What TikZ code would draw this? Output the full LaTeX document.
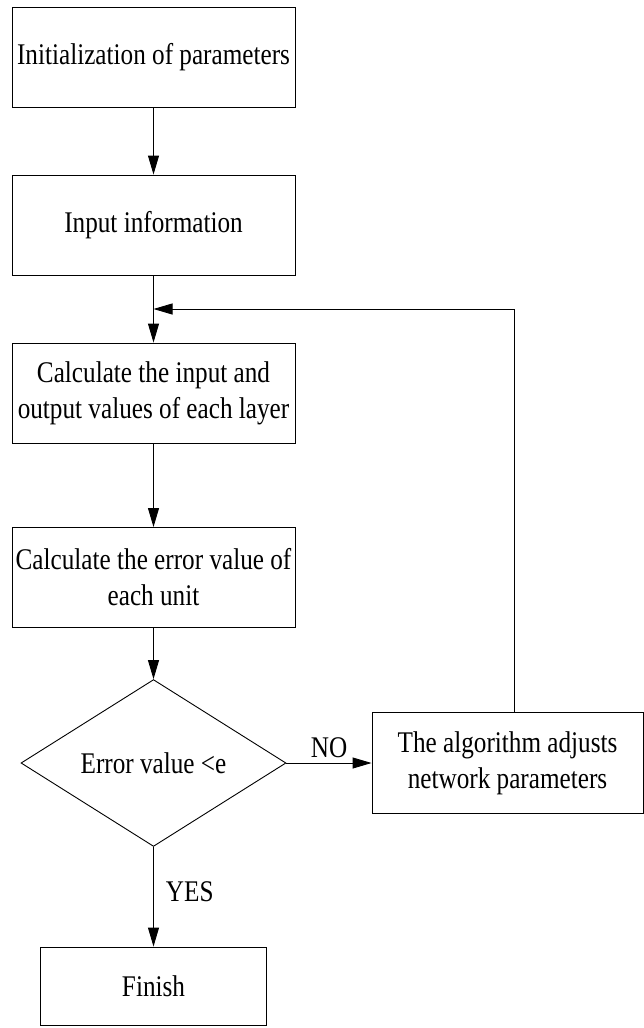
\documentclass[tikz,border=0pt]{standalone}
\usepackage{fontspec}
\setmainfont[FakeStretch=0.84]{Liberation Serif}
\usetikzlibrary{
  arrows.meta,
  calc,
  shapes.geometric
}

\begin{document}
\begin{tikzpicture}[
  x=1pt, y=-1pt,
  font=\fontsize{30}{36}\selectfont,
  >={Triangle[width=11pt,length=19pt]},
  stepbox/.style={draw, line width=0.9pt, minimum width=#1,
                  minimum height=100pt, inner sep=1pt, align=center},
  stepbox/.default=283pt,
  test/.style={diamond, draw, line width=0.9pt, minimum width=265pt,
               minimum height=148pt, inner sep=0pt, align=center},
  arr/.style={->, line width=0.9pt},
]
  \useasboundingbox (0,0) rectangle (644,1028);

  % main column
  \node[stepbox] (init)  at (153.5,57)  {Initialization of parameters};
  \node[stepbox] (input) at (153.5,225) {Input information};
  \node[stepbox] (layer) at (153.5,393) {Calculate the input and\\output values of each layer};
  \node[stepbox] (unit)  at (153.5,577.5) {Calculate the error value of\\each unit};
  \node[test]    (check) at (153.5,763) {Error value <e};
  \node[stepbox=226pt, minimum height=78pt] (finish) at (153.5,986) {Finish};

  % correction branch
  \node[stepbox=271pt, minimum height=101pt] (adjust) at (507.5,763)
    {The algorithm adjusts\\network parameters};
  \coordinate (join) at (153.5,309);
  \coordinate (fbx)  at (514,0);

  \draw[arr] (init) -- (input);
  \draw[arr] (input) -- (layer);
  \draw[arr] (layer) -- (unit);
  \draw[arr] (unit) -- (check);
  \draw[arr] (check) -- (adjust) node[midway, above, inner sep=5pt] {NO};
  \draw[arr] (check) -- (finish) node[pos=0.45, right, inner sep=12pt] {YES};
  \draw[arr] (adjust.north -| fbx) |- (join);
\end{tikzpicture}
\end{document}
